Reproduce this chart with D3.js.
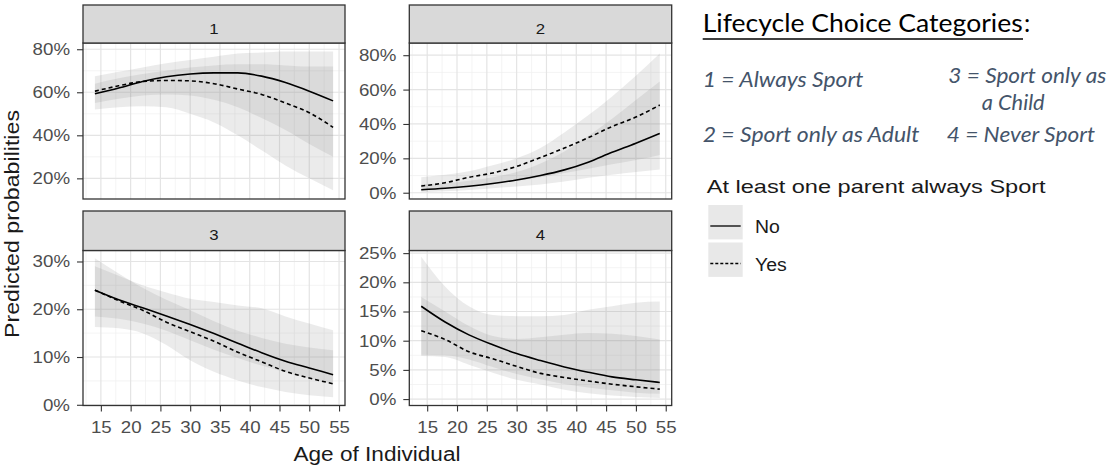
<!DOCTYPE html>
<html>
<head>
<meta charset="utf-8">
<script src="https://cdn.jsdelivr.net/npm/d3@7"></script>
<style>
  body { margin: 0; background: #fff; }
  svg { display: block; }
</style>
</head>
<body>
<svg width="1109" height="468"></svg>
<script>
const ages = [14, 18, 22, 26, 30, 34, 38, 42, 46, 50, 54];
const xTicks = [15, 20, 25, 30, 35, 40, 45, 50, 55];

// 1 = Always Sport
const noMean1 = [59.3, 62, 65, 67.2, 68.5, 69, 69, 67.5, 64.5, 60.5, 56];
const noLo1   = [55, 57, 58.5, 59, 58.5, 56.5, 53, 48, 42.5, 36, 30];
const noHi1   = [64, 66.5, 68.5, 70, 71.5, 72.5, 73, 73, 72.5, 72, 72];
const yesMean1 = [60.5, 63, 65, 65.5, 65.3, 64, 61.5, 59, 55, 50.5, 43.7];
const yesLo1   = [52, 53, 53.5, 53, 50, 46, 40, 33, 26, 20, 14.5];
const yesHi1   = [67.5, 69.5, 71.5, 73.5, 75, 76.5, 78, 78.5, 79, 79, 79];
const yTicks1 = [20, 40, 60, 80];

// 2 = Sport only as Adult
const noMean2 = [1.7, 2.6, 3.8, 5.4, 7.4, 10, 13.3, 17.8, 23.5, 28.8, 34.5];
const noLo2   = [0.3, 0.8, 1.6, 2.6, 3.6, 4.8, 6.5, 8.7, 10.5, 12, 13.5];
const noHi2   = [5, 5.5, 7, 9, 12, 17, 24, 33, 43, 54, 64.7];
const yesMean2 = [3.9, 5.8, 9, 11.5, 15.3, 20.5, 26, 32, 38.5, 44, 51];
const yesLo2   = [1.5, 2.5, 3.8, 5.3, 7, 9, 11.5, 14, 16.5, 19, 22];
const yesHi2   = [9, 10.5, 12.5, 16, 20, 26, 35, 45, 56, 68, 81];
const yTicks2 = [0, 20, 40, 60, 80];

// 3 = Sport only as a Child
const noMean3 = [24, 22, 20.3, 18.6, 16.8, 14.9, 12.9, 10.9, 9.1, 7.7, 6.3];
const noLo3   = [18.5, 18, 17, 15.5, 13.5, 11.5, 9.8, 8.2, 6.8, 5.5, 4.4];
const noHi3   = [29, 27, 25, 23.5, 22.2, 21.5, 20.8, 20.2, 18.5, 17, 15.6];
const yesMean3 = [24, 21.8, 19.8, 17.3, 15.3, 13.3, 11, 9, 7, 5.6, 4.4];
const yesLo3   = [16.3, 16, 15, 12.5, 9.3, 6.9, 5.1, 3.7, 2.7, 2, 1.6];
const yesHi3   = [30.7, 27.5, 24.5, 22, 19.8, 17.5, 15.5, 14, 12.8, 12, 11.4];
const yTicks3 = [0, 10, 20, 30];

// 4 = Never Sport
const noMean4 = [15.9, 13.2, 11, 9.3, 7.8, 6.6, 5.5, 4.6, 3.8, 3.3, 2.85];
const noLo4   = [7.6, 7.5, 6.8, 5.5, 4.3, 3.4, 2.6, 2, 1.5, 1.1, 0.9];
const noHi4   = [24.4, 19.3, 15.9, 14.4, 14.2, 14.2, 14.4, 15.3, 15.9, 16.5, 16.7];
const yesMean4 = [11.7, 10.2, 8.1, 6.9, 5.6, 4.4, 3.7, 3.1, 2.55, 2.1, 1.7];
const yesLo4   = [7.4, 7.2, 5.9, 4.5, 3.3, 2.5, 1.6, 1.0, 0.6, 0.35, 0.2];
const yesHi4   = [17.5, 15, 12.5, 10.8, 10.3, 10.6, 11, 11.3, 11.2, 10.8, 10.2];
const yTicks4 = [0, 5, 10, 15, 20, 25];

const legendLabels = ["No", "Yes"];
const categoryNotes = ["1 = Always Sport", "2 = Sport only as Adult", "3 = Sport only as", "a Child", "4 = Never Sport"];

const panels = [
  { label: "1", col: 0, row: 0, no: [noMean1, noLo1, noHi1], yes: [yesMean1, yesLo1, yesHi1], ticks: yTicks1, dom: [10.4, 82.9] },
  { label: "2", col: 1, row: 0, no: [noMean2, noLo2, noHi2], yes: [yesMean2, yesLo2, yesHi2], ticks: yTicks2, dom: [-3.65, 87.1] },
  { label: "3", col: 0, row: 1, no: [noMean3, noLo3, noHi3], yes: [yesMean3, yesLo3, yesHi3], ticks: yTicks3, dom: [-0.15, 32.3] },
  { label: "4", col: 1, row: 1, no: [noMean4, noLo4, noHi4], yes: [yesMean4, yesLo4, yesHi4], ticks: yTicks4, dom: [-1.1, 25.45] }
];

const cols = [[83, 345], [409.3, 671.7]];
const rows = [{ strip: 5, top: 43, bottom: 199 }, { strip: 211, top: 250.5, bottom: 405.5 }];

const svg = d3.select("svg");
const font = "'Liberation Sans', Arial, sans-serif";

// the picture looks a bit wider than plain Arial, so stretch text slightly
function stretch(sel, k) {
  sel.each(function() {
    const len = this.getComputedTextLength();
    d3.select(this).attr("textLength", len * k).attr("lengthAdjust", "spacingAndGlyphs");
  });
}

panels.forEach(p => {
  const [x0, x1] = cols[p.col];
  const r = rows[p.row];
  const x = d3.scaleLinear().domain([12, 56]).range([x0, x1]);
  const y = d3.scaleLinear().domain(p.dom).range([r.bottom, r.top]);
  const g = svg.append("g");

  g.append("rect").attr("x", x0).attr("y", r.top).attr("width", x1 - x0).attr("height", r.bottom - r.top).attr("fill", "#fff");

  // grid
  const step = p.ticks[1] - p.ticks[0];
  const yMinor = d3.range(p.ticks[0] - step / 2, p.dom[1], step).filter(v => v > p.dom[0] && v < p.dom[1]);
  const xMinor = d3.range(12.5, 56, 5);
  g.selectAll(".ymin").data(yMinor).enter().append("line")
    .attr("x1", x0).attr("x2", x1).attr("y1", d => y(d)).attr("y2", d => y(d))
    .attr("stroke", "#efefef").attr("stroke-width", 0.7);
  g.selectAll(".xmin").data(xMinor).enter().append("line")
    .attr("y1", r.top).attr("y2", r.bottom).attr("x1", d => x(d)).attr("x2", d => x(d))
    .attr("stroke", "#efefef").attr("stroke-width", 0.7);
  g.selectAll(".ymaj").data(p.ticks).enter().append("line")
    .attr("x1", x0).attr("x2", x1).attr("y1", d => y(d)).attr("y2", d => y(d))
    .attr("stroke", "#e4e4e4").attr("stroke-width", 1.2);
  g.selectAll(".xmaj").data(xTicks).enter().append("line")
    .attr("y1", r.top).attr("y2", r.bottom).attr("x1", d => x(d)).attr("x2", d => x(d))
    .attr("stroke", "#e4e4e4").attr("stroke-width", 1.2);

  // ribbons
  [p.no, p.yes].forEach(s => {
    const area = d3.area().curve(d3.curveMonotoneX)
      .x((d, i) => x(ages[i])).y0((d, i) => y(s[1][i])).y1((d, i) => y(s[2][i]));
    g.append("path").attr("d", area(ages)).attr("fill", "#808080").attr("fill-opacity", 0.16);
  });

  // lines
  const line = d3.line().curve(d3.curveMonotoneX).x((d, i) => x(ages[i])).y(d => y(d));
  g.append("path").attr("d", line(p.no[0])).attr("fill", "none").attr("stroke", "#000").attr("stroke-width", 1.6);
  g.append("path").attr("d", line(p.yes[0])).attr("fill", "none").attr("stroke", "#000").attr("stroke-width", 1.6)
    .attr("stroke-dasharray", "4,3");

  g.append("rect").attr("x", x0).attr("y", r.top).attr("width", x1 - x0).attr("height", r.bottom - r.top)
    .attr("fill", "none").attr("stroke", "#333").attr("stroke-width", 1.3);

  // strip
  g.append("rect").attr("x", x0).attr("y", r.strip).attr("width", x1 - x0).attr("height", r.top - r.strip)
    .attr("fill", "#d9d9d9").attr("stroke", "#333").attr("stroke-width", 1.3);
  g.append("text").attr("x", (x0 + x1) / 2).attr("y", r.strip + 28.5)
    .attr("text-anchor", "middle").attr("font-family", font).attr("font-size", 15).attr("fill", "#1a1a1a")
    .text(p.label).call(stretch, 1.12);

  // y axis
  const ya = g.append("g").attr("transform", `translate(${x0},0)`)
    .call(d3.axisLeft(y).tickValues(p.ticks).tickSize(6).tickPadding(7).tickFormat(d => d + "%"));
  ya.select(".domain").remove();
  ya.selectAll("line").attr("stroke", "#333").attr("stroke-width", 1.1);
  ya.selectAll("text").attr("font-family", font).attr("font-size", 17).attr("fill", "#4d4d4d").call(stretch, 1.1);

  // x axis only on the bottom row
  if (p.row === 1) {
    const xa = g.append("g").attr("transform", `translate(0,${r.bottom})`)
      .call(d3.axisBottom(x).tickValues(xTicks).tickSize(6).tickPadding(9.5));
    xa.select(".domain").remove();
    xa.selectAll("line").attr("stroke", "#333").attr("stroke-width", 1.1);
    xa.selectAll("text").attr("font-family", font).attr("font-size", 17).attr("fill", "#4d4d4d").call(stretch, 1.1);
  }
});

// axis titles
svg.append("text").attr("transform", "translate(19,224) rotate(-90)")
  .attr("text-anchor", "middle").attr("font-family", font).attr("font-size", 20).attr("fill", "#1a1a1a")
  .attr("textLength", 228).attr("lengthAdjust", "spacingAndGlyphs")
  .text("Predicted probabilities");
svg.append("text").attr("x", 377).attr("y", 460.5)
  .attr("text-anchor", "middle").attr("font-family", font).attr("font-size", 20).attr("fill", "#1a1a1a")
  .attr("textLength", 167).attr("lengthAdjust", "spacingAndGlyphs")
  .text("Age of Individual");

// category notes
const calib = "Lato, 'Open Sans', sans-serif";
svg.append("text").attr("x", 702.7).attr("y", 32.3).attr("font-family", calib).attr("font-size", 25)
  .attr("fill", "#000").attr("textLength", 320).attr("lengthAdjust", "spacingAndGlyphs")
  .text("Lifecycle Choice Categories");
svg.append("text").attr("x", 1024).attr("y", 32.3).attr("font-family", calib).attr("font-size", 25)
  .attr("fill", "#000").text(":");
svg.append("line").attr("x1", 702.7).attr("x2", 1023).attr("y1", 39).attr("y2", 39)
  .attr("stroke", "#000").attr("stroke-width", 1.5);

const notePos = [
  { x: 702.7, y: 87.3, w: 160.7 },
  { x: 702.7, y: 141.7, w: 216.7 },
  { x: 948.3, y: 82.7, w: 158 },
  { x: 981.7, y: 110, w: 63 },
  { x: 946.7, y: 141.7, w: 148.3 }
];
svg.selectAll(".note").data(categoryNotes).enter().append("text")
  .attr("x", (d, i) => notePos[i].x).attr("y", (d, i) => notePos[i].y)
  .attr("font-family", calib).attr("font-style", "italic").attr("font-size", 21).attr("fill", "#44546a")
  .attr("textLength", (d, i) => notePos[i].w).attr("lengthAdjust", "spacingAndGlyphs")
  .text(d => d);

// linetype legend
svg.append("text").attr("x", 706.7).attr("y", 193.3).attr("font-family", font).attr("font-size", 18.5)
  .attr("fill", "#1a1a1a").attr("textLength", 339).attr("lengthAdjust", "spacingAndGlyphs")
  .text("At least one parent always Sport");
const keys = svg.selectAll(".key").data(legendLabels).enter().append("g")
  .attr("transform", (d, i) => `translate(708.3,${205 + i * 37.5})`);
keys.append("rect").attr("width", 34.4).attr("height", 34.4).attr("fill", "#808080").attr("fill-opacity", 0.18);
keys.append("line").attr("x1", 2).attr("x2", 32.4).attr("y1", 21).attr("y2", 21)
  .attr("stroke", "#000").attr("stroke-width", 1.3)
  .attr("stroke-dasharray", (d, i) => i ? "3,2" : null);
keys.append("text").attr("x", 46.7).attr("y", (d, i) => i ? 28.5 : 28.3)
  .attr("font-family", font).attr("font-size", 18).attr("fill", "#1a1a1a")
  .text(d => d).call(stretch, 1.08);
</script>
</body>
</html>
